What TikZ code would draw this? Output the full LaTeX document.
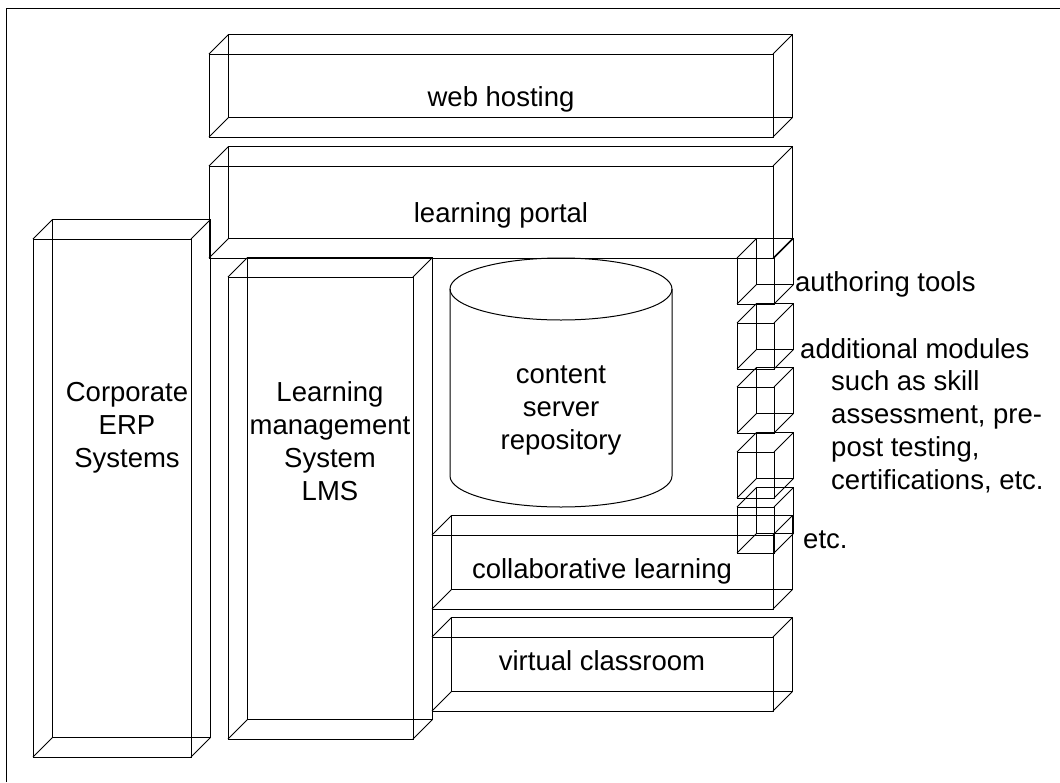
\documentclass[tikz,border=0pt]{standalone}
\usepackage{fontspec}
\setmainfont{Liberation Sans}
\usepackage{tikz}
\usetikzlibrary{positioning}
\tikzset{wire/.style={draw=black, line width=1pt},
	lbl/.style={font=\fontsize{27.5}{33}\selectfont, inner sep=0pt, align=center}}
\def\dep{19.5}
% front face (x1,y1)-(x2,y2), back face pushed up and right
\newcommand{\cuboid}[4]{%
	\draw[wire] (#1,#2) rectangle (#3,#4)
		(#1+\dep,#2-\dep) rectangle (#3+\dep,#4-\dep);
	\foreach \cx/\cy in {#1/#2,#3/#2,#1/#4,#3/#4}
		\draw[wire] (\cx,\cy) -- ++(\dep,-\dep);}

\begin{document}
\begin{tikzpicture}[x=1pt,y=-1pt]
		\useasboundingbox (0,0) rectangle (1060,782);
		\draw[wire] (6,782) -- (6,8) -- (1060,8);
		\cuboid{209}{54}{773}{137}
		\cuboid{209}{166}{773}{258}
		\cuboid{33}{239}{191}{757}
		\cuboid{228}{277}{413}{739}
		\cuboid{432}{535}{773}{609}
		\cuboid{432}{637}{773}{711}
		\foreach \ytop in {258,323,387,452,507} {
			\cuboid{737}{\ytop}{774}{\ytop+46}}
		% repository
		\draw[wire] (561,289) ellipse [x radius=111, y radius=31];
		\draw[wire] (450,289) -- (450,476)
			arc [start angle=180, end angle=0, x radius=111, y radius=31] -- (672,289);
		\node[lbl, anchor=base] (web) at (501,106) {web hosting};
		\node[lbl, anchor=base] (portal) at (501,222) {learning portal};
		\node[lbl] (erp) at (127,428) {Corporate\\ERP\\Systems};
		\node[lbl] (lms) at (330,441) {Learning\\management\\System\\LMS};
		\node[lbl] (repo) at (561,410) {content\\server\\repository};
		\node[lbl, anchor=base] (collab) at (602,578) {collaborative learning};
		\node[lbl, anchor=base] (virtual) at (602,670) {virtual classroom};
		\node[lbl, anchor=base west] (author) at (795,291) {authoring tools};
		\node[lbl, anchor=base west] (addmod) at (800,358) {additional modules};
		\node[lbl, anchor=north west, align=left] (addtxt) at (831,370)
			{such as skill\\assessment, pre-\\post testing,\\certifications, etc.};
		\node[lbl, anchor=base west] (etc) at (803,548) {etc.};
	\end{tikzpicture}
\end{document}
